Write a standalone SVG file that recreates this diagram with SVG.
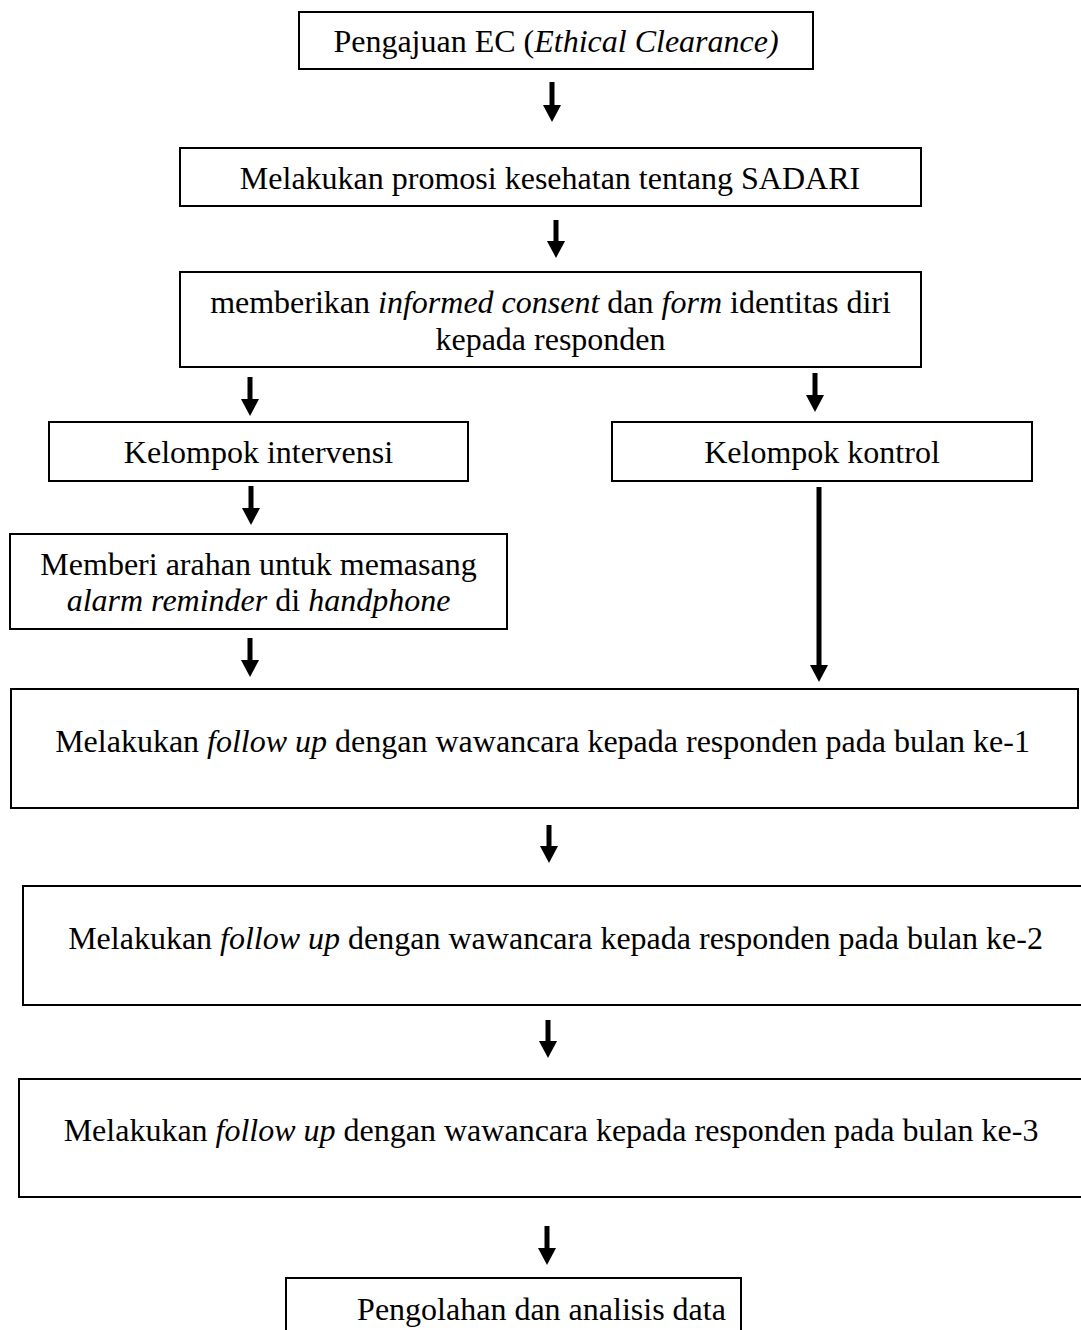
<svg xmlns="http://www.w3.org/2000/svg" width="1081" height="1330" viewBox="0 0 1081 1330">
<style>
.box{fill:#fff;stroke:#000;stroke-width:2}
.t{font-family:"Liberation Serif","Times New Roman",serif;font-size:32px;fill:#000;text-anchor:middle}
.i{font-style:italic}
.arr{stroke:#000;stroke-width:5;fill:none;marker-end:url(#ah)}
</style>
<defs>
<marker id="ah" viewBox="0 0 17 18" refX="0" refY="9" markerWidth="17" markerHeight="18" markerUnits="userSpaceOnUse" orient="auto">
<path d="M0,0 L17,9 L0,18 Z" fill="#000"/>
</marker>
</defs>
<rect width="1081" height="1330" fill="#fff"/>
<g id="connectors">
<line class="arr" x1="552" y1="82" x2="552" y2="105"/>
<line class="arr" x1="556" y1="220" x2="556" y2="241"/>
<line class="arr" x1="250" y1="377" x2="250" y2="399"/>
<line class="arr" x1="815" y1="373" x2="815" y2="395"/>
<line class="arr" x1="251" y1="486" x2="251" y2="508"/>
<line class="arr" x1="819" y1="487" x2="819" y2="665"/>
<line class="arr" x1="250" y1="638" x2="250" y2="660"/>
<line class="arr" x1="549" y1="825" x2="549" y2="846"/>
<line class="arr" x1="548" y1="1020" x2="548" y2="1041"/>
<line class="arr" x1="547" y1="1226" x2="547" y2="1248"/>
</g>
<g id="node-ec">
<rect class="box" x="299" y="12" width="514" height="57"/>
<text class="t" x="556" y="52">Pengajuan EC (<tspan class="i">Ethical Clearance)</tspan></text>
</g>
<g id="node-promosi">
<rect class="box" x="180" y="148" width="741" height="58"/>
<text class="t" x="550" y="189">Melakukan promosi kesehatan tentang SADARI</text>
</g>
<g id="node-consent">
<rect class="box" x="180" y="272" width="741" height="95"/>
<text class="t" x="550.5" y="313">memberikan <tspan class="i">informed consent</tspan> dan <tspan class="i">form</tspan> identitas diri</text>
<text class="t" x="550.5" y="350">kepada responden</text>
</g>
<g id="node-intervensi">
<rect class="box" x="49" y="422" width="419" height="59"/>
<text class="t" x="258.5" y="463">Kelompok intervensi</text>
</g>
<g id="node-kontrol">
<rect class="box" x="612" y="422" width="420" height="59"/>
<text class="t" x="822" y="463">Kelompok kontrol</text>
</g>
<g id="node-alarm">
<rect class="box" x="10" y="534" width="497" height="95"/>
<text class="t" x="258.5" y="575">Memberi arahan untuk memasang</text>
<text class="t" x="258.5" y="611"><tspan class="i">alarm reminder</tspan> di <tspan class="i">handphone</tspan></text>
</g>
<g id="node-fu1">
<rect class="box" x="11" y="689" width="1067" height="119"/>
<text class="t" x="542.5" y="752">Melakukan <tspan class="i">follow up</tspan> dengan wawancara kepada responden pada bulan ke-1</text>
</g>
<g id="node-fu2">
<rect class="box" x="23" y="886" width="1080" height="119"/>
<text class="t" x="555.5" y="949">Melakukan <tspan class="i">follow up</tspan> dengan wawancara kepada responden pada bulan ke-2</text>
</g>
<g id="node-fu3">
<rect class="box" x="19" y="1079" width="1080" height="118"/>
<text class="t" x="551" y="1141">Melakukan <tspan class="i">follow up</tspan> dengan wawancara kepada responden pada bulan ke-3</text>
</g>
<g id="node-analisis">
<rect class="box" x="286" y="1278" width="455" height="70"/>
<text class="t" x="541.5" y="1320">Pengolahan dan analisis data</text>
</g>
</svg>
